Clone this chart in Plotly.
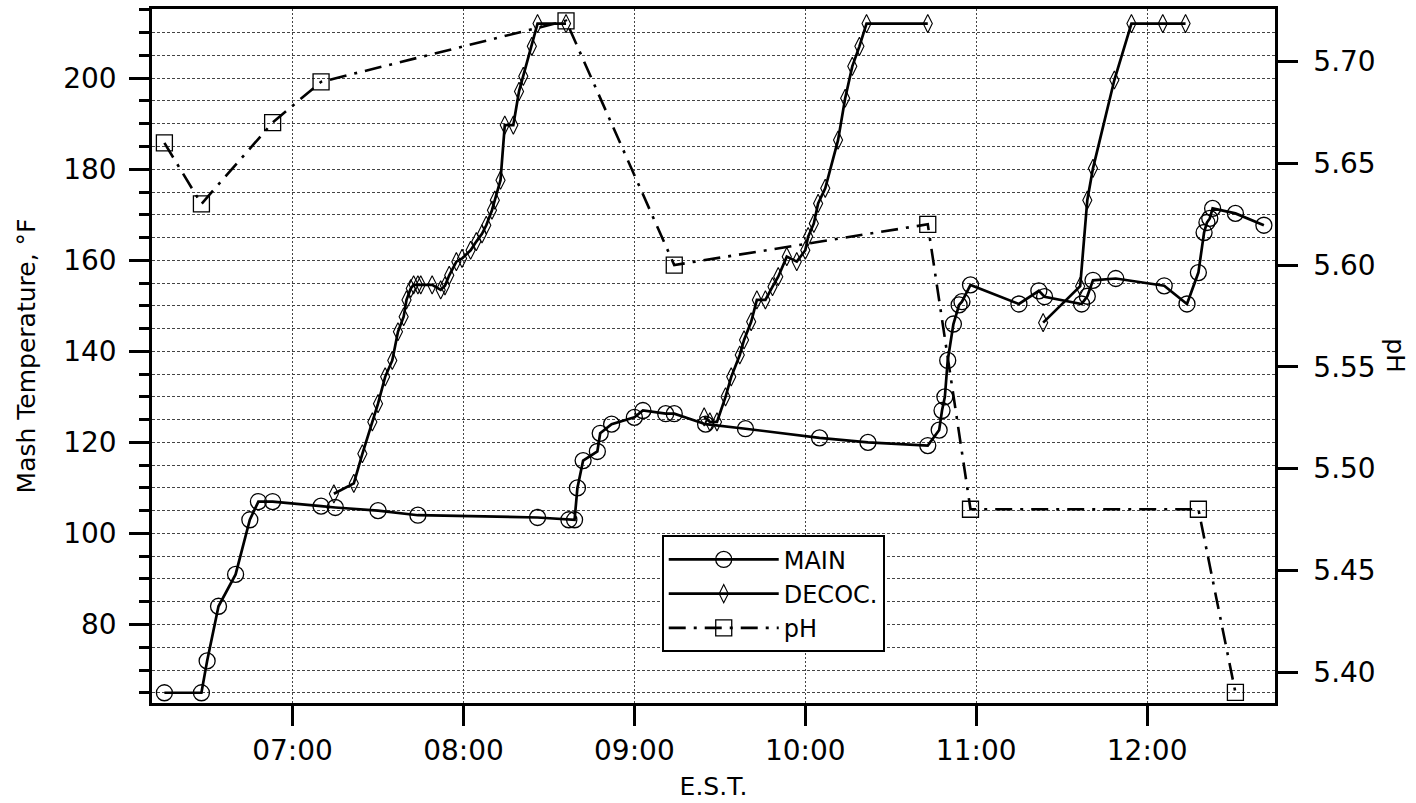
import plotly.graph_objects as go

DAY = "2000-01-01 "

# Main mash temperature readings (°F)
main_time = [
    "06:15", "06:28", "06:30", "06:34", "06:40", "06:45", "06:48", "06:53",
    "07:10", "07:15", "07:30", "07:44", "08:26", "08:37", "08:39", "08:40",
    "08:42", "08:47", "08:48", "08:52", "09:00", "09:03", "09:11", "09:14",
    "09:25", "09:39", "10:05", "10:22", "10:43", "10:47", "10:48", "10:49",
    "10:50", "10:52", "10:54", "10:55", "10:58", "11:15", "11:22", "11:24",
    "11:37", "11:39", "11:41", "11:49", "12:06", "12:14", "12:18", "12:20",
    "12:21", "12:22", "12:23", "12:31", "12:41",
]
main_temp = [
    65, 65, 72, 84, 91, 103, 107, 107,
    106, 105.7, 105, 104, 103.5, 103, 103, 110,
    116, 118, 122, 124, 125.5, 127, 126.3, 126.3,
    124, 123, 121, 120, 119.3, 122.7, 127, 130,
    138, 146, 150.2, 150.9, 154.6, 150.4, 153.3, 152,
    150.4, 152.1, 155.6, 156, 154.4, 150.4, 157.3, 166.1,
    168.3, 169.2, 171.4, 170.3, 167.7,
]

# Decoction temperatures, three separate pulls (None separates them)
decoc_time = [
    "07:14:30", "07:21:30", "07:24:30", "07:28", "07:30", "07:32:30", "07:35",
    "07:37", "07:39", "07:40", "07:41:30", "07:42:30", "07:44", "07:45",
    "07:49", "07:52", "07:53:30", "07:55", "07:57:30", "07:59:30", "08:02:30",
    "08:04:30", "08:06:30", "08:08", "08:10", "08:11", "08:13", "08:14:30",
    "08:17:30", "08:19:30", "08:21", "08:24", "08:26", "08:36",
    None,
    "09:24:30", "09:26:30", "09:29", "09:32", "09:34", "09:37", "09:38:30",
    "09:41", "09:43", "09:46", "09:48:30", "09:50:30", "09:53:30", "09:57",
    "10:00", "10:01", "10:03", "10:04:30", "10:07", "10:11:30", "10:14",
    "10:16:30", "10:19", "10:21:30", "10:43",
    None,
    "11:23:30", "11:36:30", "11:39", "11:41", "11:48:30", "11:54:30",
    "12:05:30", "12:13:30",
]
decoc_temp = [
    108.7, 111, 117.5, 124.5, 128.5, 134.4, 138,
    144.3, 147.6, 151.3, 153.8, 154.6, 154.6, 154.6,
    154.6, 153.5, 154.4, 156.7, 159.7, 160.4, 162.2,
    164.1, 165.8, 167.7, 171, 173.2, 177.6, 189.7,
    189.7, 197.1, 200.4, 207, 212, 212,
    None,
    125.6, 124.5, 124.5, 130, 134.4, 139.2, 142.5,
    146.5, 151.3, 151.3, 154.2, 156.4, 160.8, 159.7,
    162.2, 165.2, 168.1, 172.5, 175.8, 186.4, 195.6,
    202.6, 207, 212, 212,
    None,
    146.3, 154.3, 173.2, 180.2, 199.6, 212,
    212, 212,
]

# Mash pH samples
ph_time = ["06:15", "06:28", "06:53", "07:10", "08:36", "09:14", "10:43",
           "10:58", "12:18", "12:31"]
ph_value = [5.66, 5.63, 5.67, 5.69, 5.72, 5.60, 5.62, 5.48, 5.48, 5.39]

# Axis ranges and tick labels
x_range = ["06:10:39", "12:44:54"]
temp_range = [62.75, 215.2]
ph_range = [5.3848, 5.7258]
temp_ticks = [80, 100, 120, 140, 160, 180, 200]
ph_ticks = [5.40, 5.45, 5.50, 5.55, 5.60, 5.65, 5.70]
hour_ticks = ["07:00", "08:00", "09:00", "10:00", "11:00", "12:00"]


def stamp(times):
    return [DAY + t if t is not None else None for t in times]


FONT = "DejaVu Sans"
INK = "black"

fig = go.Figure()

fig.add_trace(go.Scatter(
    x=stamp(main_time), y=main_temp, name="MAIN", mode="lines+markers",
    line=dict(color=INK, width=2.7),
    marker=dict(symbol="circle-open", size=16, color=INK,
                line=dict(color=INK, width=1.3)),
))

fig.add_trace(go.Scatter(
    x=stamp(decoc_time), y=decoc_temp, name="DECOC.", mode="lines+markers",
    line=dict(color=INK, width=2.7),
    marker=dict(symbol="diamond-tall-open", size=13, color=INK,
                line=dict(color=INK, width=1.1)),
))

fig.add_trace(go.Scatter(
    x=stamp(ph_time), y=ph_value, name="pH", mode="lines+markers",
    yaxis="y2",
    line=dict(color=INK, width=2.6, dash="17px,8px,3px,8px"),
    marker=dict(symbol="square-open", size=16, color=INK,
                line=dict(color=INK, width=1.3)),
))

grid_dash = "3px,2px"

fig.update_layout(
    width=1416, height=803,
    margin=dict(l=152, r=141, t=9, b=100, autoexpand=False),
    paper_bgcolor="white", plot_bgcolor="white",
    font=dict(family=FONT, size=28, color=INK),
    showlegend=True,
    legend=dict(
        x=0.4539, y=0.2416, xanchor="left", yanchor="top",
        bordercolor=INK, borderwidth=2, bgcolor="white",
        font=dict(family=FONT, size=24, color=INK),
        itemwidth=110, tracegroupgap=0,
    ),
    xaxis=dict(
        type="date",
        range=[DAY + x_range[0], DAY + x_range[1]],
        tickvals=stamp(hour_ticks), ticktext=hour_ticks,
        tickfont=dict(size=28),
        ticks="outside", ticklen=20, tickwidth=2.5, tickcolor=INK,
        ticklabelstandoff=1,
        showline=True, linecolor=INK, linewidth=2.5, mirror=True,
        showgrid=True, gridcolor="#444", gridwidth=1, griddash="2px,2px",
        zeroline=False,
        title=dict(text="E.S.T.", font=dict(size=25), standoff=12),
    ),
    yaxis=dict(
        range=temp_range,
        tickvals=temp_ticks,
        tickfont=dict(size=28),
        ticks="outside", ticklen=20, tickwidth=2.5, tickcolor=INK,
        ticklabelstandoff=7,
        showline=True, linecolor=INK, linewidth=2.5, mirror=True,
        showgrid=True, gridcolor="#444", gridwidth=1, griddash=grid_dash,
        minor=dict(dtick=5, tick0=0, ticks="outside", ticklen=10,
                   tickwidth=2.5, tickcolor=INK, showgrid=True,
                   gridcolor="#444", gridwidth=1, griddash=grid_dash),
        zeroline=False,
        title=dict(text="Mash Temperature, °F", font=dict(size=25),
                   standoff=21),
    ),
    yaxis2=dict(
        range=ph_range, overlaying="y", side="right",
        tickvals=ph_ticks, tickformat=".2f",
        tickfont=dict(size=28),
        ticks="outside", ticklen=20, tickwidth=2.5, tickcolor=INK,
        ticklabelstandoff=10,
        showline=True, linecolor=INK, linewidth=2.5,
        showgrid=False, zeroline=False,
    ),
    annotations=[dict(
        text="pH", textangle=90, xref="paper", yref="paper",
        x=1.1076, y=0.5, xanchor="center", yanchor="middle",
        showarrow=False, font=dict(family=FONT, size=25, color=INK),
    )],
)

fig.write_html("out.html")
